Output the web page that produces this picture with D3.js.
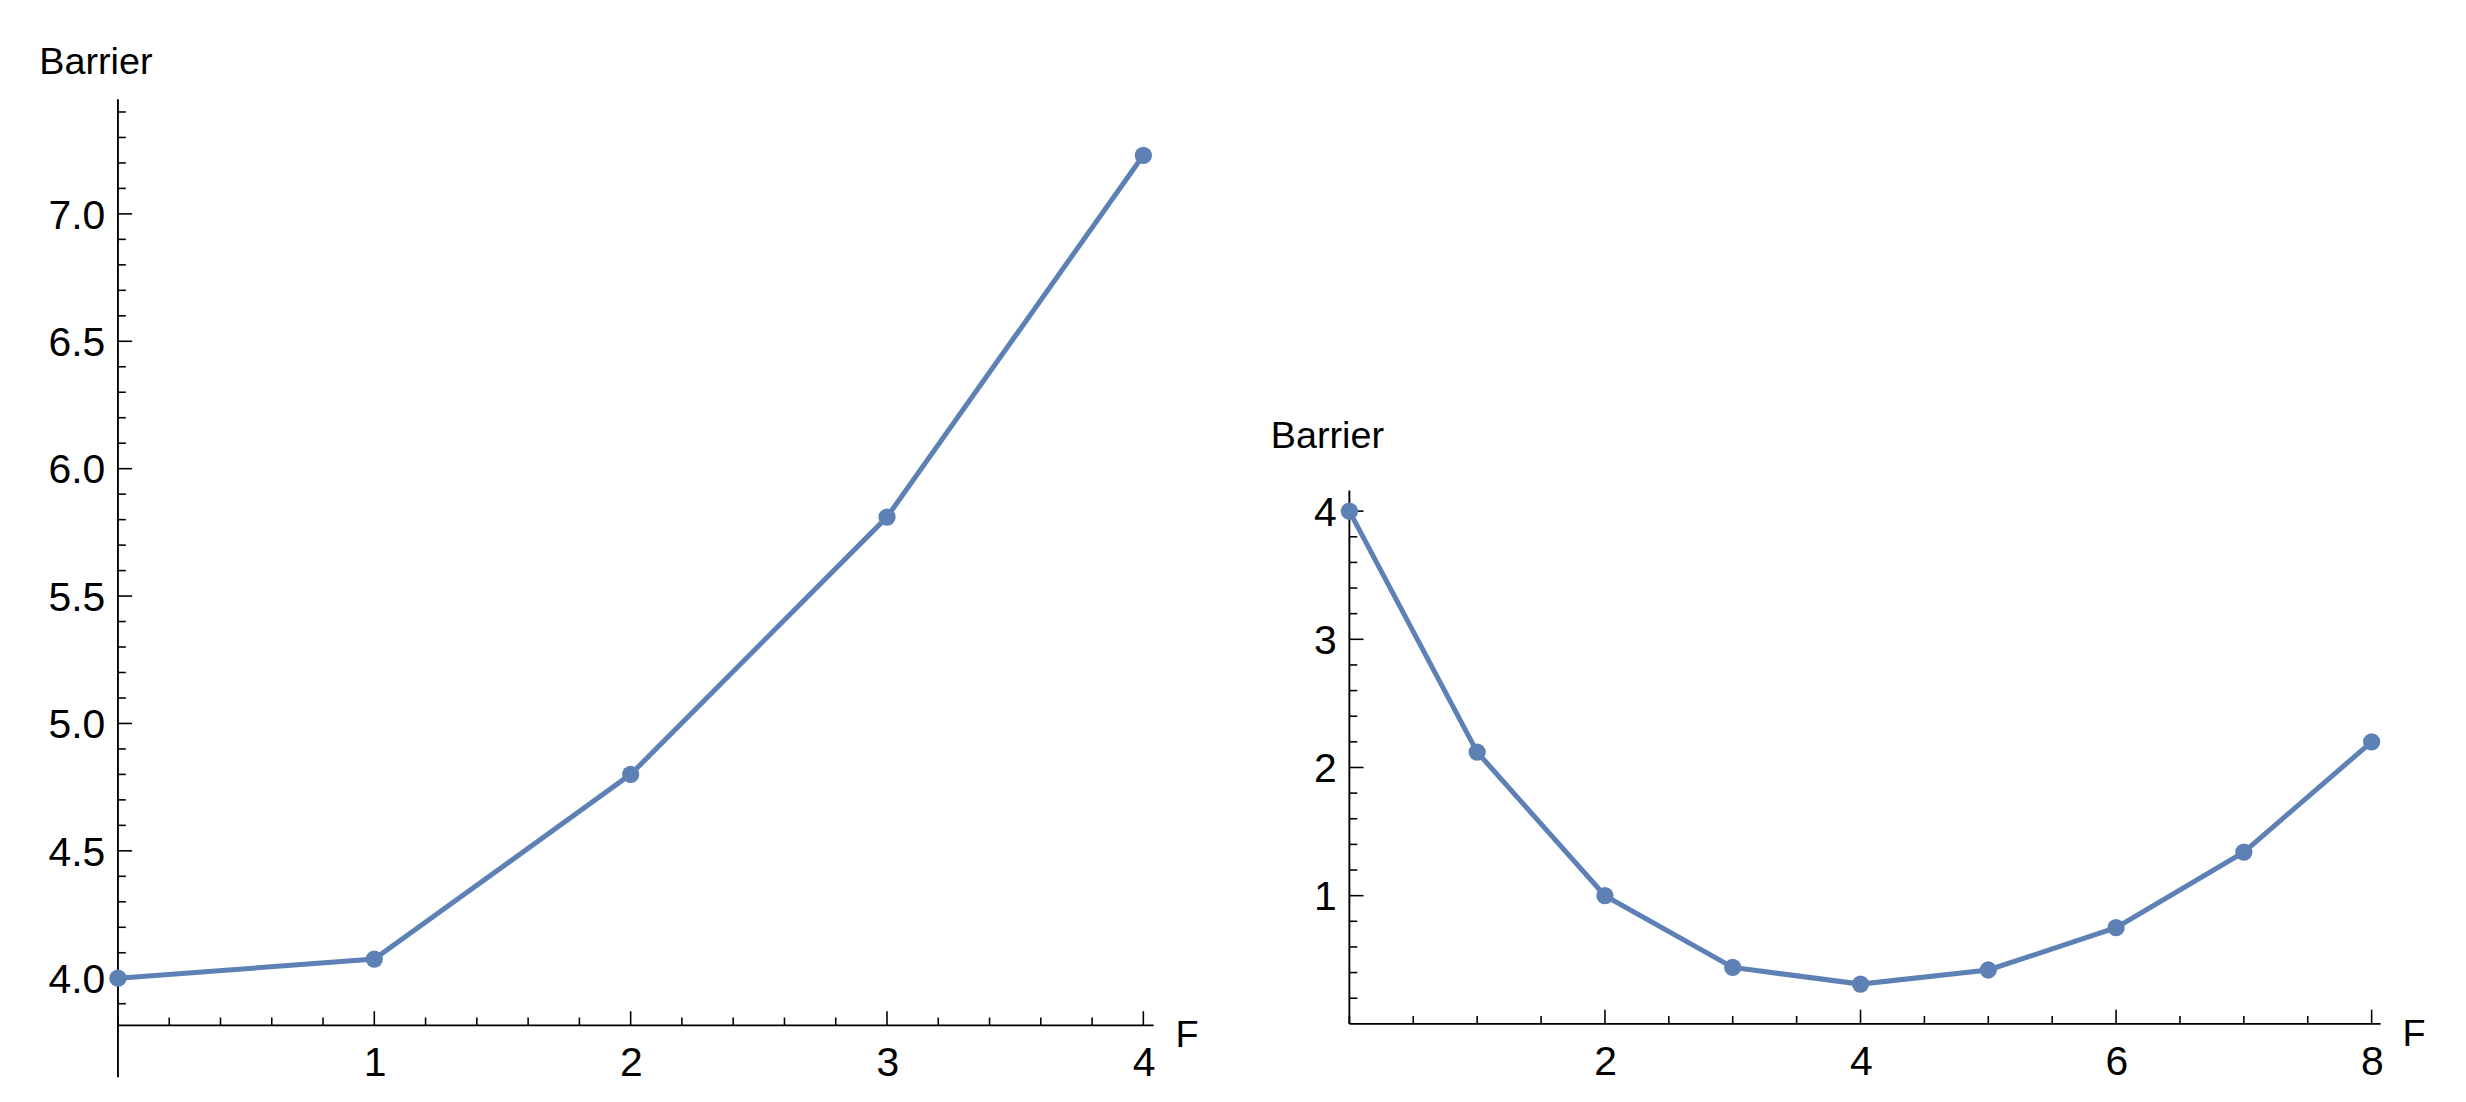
<!DOCTYPE html>
<html><head><meta charset="utf-8">
<script src="https://cdn.jsdelivr.net/npm/d3@7"></script>
<style>body{margin:0;background:#fff}text{font-family:"Liberation Sans",Arial,sans-serif}</style>
</head><body>
<svg id="c" width="2466" height="1102" viewBox="0 0 1568 700.7"></svg>
<script>
const leftF = [0, 1, 2, 3, 4];
const leftBarrier = [4.0, 4.075, 4.80, 5.81, 7.23];
const leftXTicks = [1, 2, 3, 4];
const leftYTicks = [4.0, 4.5, 5.0, 5.5, 6.0, 6.5, 7.0];

const rightF = [0, 1, 2, 3, 4, 5, 6, 7, 8];
const rightBarrier = [4.0, 2.12, 1.0, 0.44, 0.31, 0.42, 0.75, 1.34, 2.2];
const rightXTicks = [2, 4, 6, 8];
const rightYTicks = [1, 2, 3, 4];

const svg = d3.select("#c");
const color = "#5e81b5";

function panel(o) {
    const x = d3.scaleLinear().domain(o.xd).range(o.xr);
    const y = d3.scaleLinear().domain(o.yd).range(o.yr);
    const g = svg.append("g");
    const xAxis = d3.axisBottom(x).tickValues(o.xTicks).tickSize(0).tickPadding(14).tickFormat(d3.format("d"));
    // axis lines
    g.append("line").attr("x1", o.xr[0]).attr("x2", x(o.xMax)).attr("y1", y(o.xAt)).attr("y2", y(o.xAt)).attr("stroke", "#000").attr("stroke-width", 1.2);
    g.append("line").attr("x1", x(0)).attr("x2", x(0)).attr("y1", o.yBottom).attr("y2", y(o.yMax)).attr("stroke", "#000").attr("stroke-width", 1.2);
    // x ticks
    const xMinor = d3.range(0, o.xMax + 1e-9, o.xMinorStep);
    g.selectAll(null).data(xMinor).join("line")
        .attr("x1", d => x(d)).attr("x2", d => x(d))
        .attr("y1", y(o.xAt)).attr("y2", d => y(o.xAt) - (o.xTicks.includes(+d.toFixed(3)) ? 9 : 5))
        .attr("stroke", "#000").attr("stroke-width", 1);
    g.append("g").attr("transform", `translate(0,${y(o.xAt)})`).call(xAxis)
        .call(s => s.select(".domain").remove())
        .selectAll("text").attr("font-size", 26).attr("font-family", "Liberation Sans, Arial, sans-serif");
    // y ticks
    const yMinor = d3.range(o.yMinorStart, o.yMax + 1e-9, o.yMinorStep);
    g.selectAll(null).data(yMinor).join("line")
        .attr("y1", d => y(d)).attr("y2", d => y(d))
        .attr("x1", x(0)).attr("x2", d => x(0) + (o.yTicks.some(t => Math.abs(t - d) < 1e-6) ? 9 : 5))
        .attr("stroke", "#000").attr("stroke-width", 1);
    g.selectAll(null).data(o.yTicks).join("text")
        .attr("x", x(0) - 8).attr("y", d => y(d)).attr("dy", "0.36em")
        .attr("text-anchor", "end").attr("font-size", 26).text(o.yFmt);
    g.append("text").attr("x", o.titleX).attr("y", o.titleY).attr("font-size", 24).text("Barrier");
    g.append("text").attr("x", x(o.xMax) + 14).attr("y", y(o.xAt) + 14).attr("font-size", 24).text("F");
    // data
    const pts = o.f.map((f, i) => [f, o.v[i]]);
    g.append("path").datum(pts)
        .attr("d", d3.line().x(d => x(d[0])).y(d => y(d[1])))
        .attr("fill", "none").attr("stroke", color).attr("stroke-width", 3.2);
    g.selectAll(null).data(pts).join("circle")
        .attr("cx", d => x(d[0])).attr("cy", d => y(d[1])).attr("r", 5.5).attr("fill", color);
}

panel({
    xd: [0, 4], xr: [75, 727], yd: [4, 7], yr: [622, 136],
    xMax: 4.04, xAt: 3.815, yMax: 7.45, yBottom: 685,
    xTicks: leftXTicks, yTicks: leftYTicks, xMinorStep: 0.2, yMinorStart: 3.9, yMinorStep: 0.1,
    yFmt: d3.format(".1f"), f: leftF, v: leftBarrier, titleX: 25, titleY: 47
});
panel({
    xd: [0, 8], xr: [858, 1508], yd: [0, 4], yr: [651, 325],
    xMax: 8.07, xAt: 0, yMax: 4.16, yBottom: 651,
    xTicks: rightXTicks, yTicks: rightYTicks, xMinorStep: 0.5, yMinorStart: 0.2, yMinorStep: 0.2,
    yFmt: d3.format("d"), f: rightF, v: rightBarrier, titleX: 808, titleY: 285
});
</script>
</body></html>
